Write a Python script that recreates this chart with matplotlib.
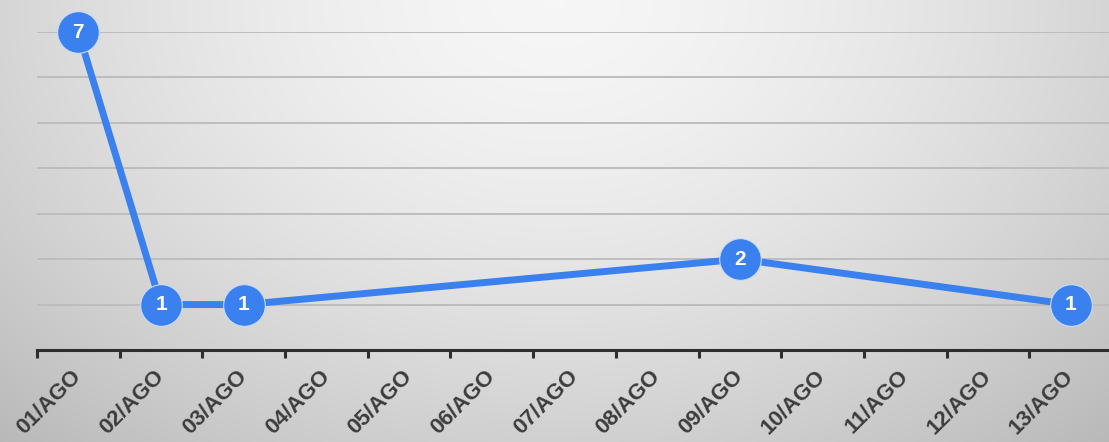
import numpy as np
import matplotlib.pyplot as plt

days = ['01/AGO', '02/AGO', '03/AGO', '04/AGO', '05/AGO', '06/AGO', '07/AGO',
        '08/AGO', '09/AGO', '10/AGO', '11/AGO', '12/AGO', '13/AGO']
counts = [7, 1, 1, None, None, None, None, None, 2, None, None, None, 1]

BLUE = '#3a80ee'

fig = plt.figure(figsize=(11.09, 4.42), dpi=100)

# radial grey background
bg = fig.add_axes([0, 0, 1, 1], zorder=-10)
gx, gy = np.meshgrid(np.linspace(-1, 1, 400), np.linspace(0, 1, 200))
r = np.sqrt((gx / 1.15) ** 2 + (gy / 1.05) ** 2)
shade = 0.965 - 0.16 * np.clip(r, 0, 1.4) ** 1.6
bg.imshow(np.dstack([shade] * 3), extent=[0, 1, 0, 1], origin='upper', aspect='auto')
bg.axis('off')

ax = fig.add_axes([37 / 1109, 92 / 442, 1075 / 1109, 318 / 442])
ax.patch.set_alpha(0)

xs = [i + 0.5 for i, v in enumerate(counts) if v is not None]
ys = [v for v in counts if v is not None]

ax.plot(xs, ys, color=BLUE, lw=5, zorder=3, clip_on=False, solid_capstyle='round')
ax.plot(xs, ys, 'o', ms=30, mfc=BLUE, mec='#c9dcfa', mew=0.8, zorder=4, clip_on=False)
for x, y in zip(xs, ys):
    ax.text(x, y, str(y), color='white', fontsize=15, fontweight='bold',
            ha='center', va='center', zorder=5, family='Liberation Sans')

ax.set_xlim(0, 13)
ax.set_ylim(0, 7)
ax.set_yticks(range(1, 8))
ax.yaxis.grid(True, color='#bdbdbd', lw=1.4)
ax.tick_params(axis='y', length=0, labelleft=False)

ax.set_xticks(range(14))
ax.set_xticklabels([])
ax.set_xticks([i + 0.5 for i in range(13)], minor=True)
ax.set_xticklabels(days, minor=True, rotation=45, ha='right', va='center',
                   rotation_mode='anchor', fontsize=16, fontweight='bold',
                   color='#3c3c3c', family='Liberation Sans')
ax.tick_params(axis='x', which='major', length=6, width=2.2, color='#2e2e2e', direction='out')
ax.tick_params(axis='x', which='minor', length=0, pad=17)

for s in ['top', 'right', 'left']:
    ax.spines[s].set_visible(False)
ax.spines['bottom'].set_color('#2e2e2e')
ax.spines['bottom'].set_linewidth(2.2)
ax.set_axisbelow(True)

fig.savefig('out.png', dpi=100)
